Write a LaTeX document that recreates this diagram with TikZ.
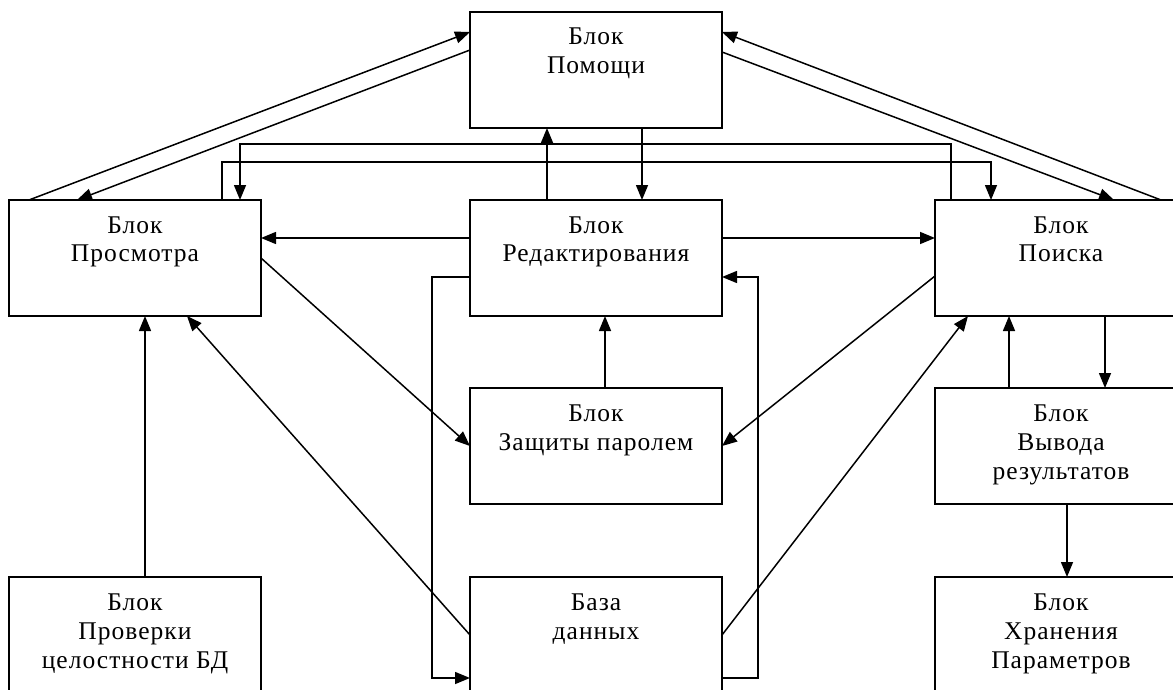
\documentclass[tikz,border=0pt]{standalone}
\usepackage{fontspec}
\setmainfont{Liberation Serif}[LetterSpace=4.0]
\usepackage{tikz}
\usetikzlibrary{arrows.meta, positioning}
\tikzstyle{block}=[rectangle, draw=black, line width=1.5pt, outer sep=0pt, inner sep=0pt, minimum width=252pt, minimum height=116pt, align=center, font=\fontsize{25.5}{29}\selectfont]
\tikzstyle{post}=[-{Triangle[length=15pt,width=12pt]}, line width=1.5pt]

\begin{document}
\begin{tikzpicture}[x=1pt, y=1pt]
  \useasboundingbox (0,0) rectangle (1173,-690);
  \clip (0,0) rectangle (1173,-690);

  % blocks
  \node[block] (prosm) at (135,-258) {Блок\\Просмотра\\\strut};
	\node[block] (redakt) [right=209pt of prosm] {Блок\\Редактирования\\\strut};
	\node[block] (poisk) [right=213pt of redakt] {Блок\\Поиска\\\strut};
	\node[block] (pomosh) [above=72pt of redakt] {Блок\\Помощи\\\strut};
	\node[block] (zashch) [below=72pt of redakt] {Блок\\Защиты паролем\\\strut};
	\node[block] (baza) [below=73pt of zashch] {База\\данных\\\strut};
	\node[block] (vyvod) [below=72pt of poisk] {Блок\\Вывода\\результатов\strut};
	\node[block] (hran) [below=73pt of vyvod] {Блок\\Хранения\\Параметров\strut};
	\node[block] (prov) [below=261pt of prosm] {Блок\\Проверки\\целостности БД\strut};

  % help links
  \draw[post] ([xshift=20pt]prosm.north west) -- ([yshift=-20pt]pomosh.north west);
  \draw[post] ([yshift=-38pt]pomosh.north west) -- ([xshift=68pt]prosm.north west);
  \draw[post] ([xshift=226pt]poisk.north west) -- ([yshift=-20pt]pomosh.north east);
  \draw[post] ([yshift=-40pt]pomosh.north east) -- ([xshift=179pt]poisk.north west);
  \draw[post] ([xshift=172pt]pomosh.south west) -- ([xshift=172pt]redakt.north west);
  \draw[post] ([xshift=77pt]redakt.north west) -- ([xshift=77pt]pomosh.south west);

  % over the top
  \draw[post] ([xshift=213pt]prosm.north west) -- ++(0,38) -| ([xshift=56pt]poisk.north west);
  \draw[post] ([xshift=16pt]poisk.north west) -- ++(0,56) -| ([xshift=231pt]prosm.north west);

  \draw[post] ([yshift=20pt]redakt.west) -- ([yshift=20pt]prosm.east);
  \draw[post] ([yshift=20pt]redakt.east) -- ([yshift=20pt]poisk.west);
  \draw[post] ([yshift=-19pt]redakt.west) -- ++(-38,0) |- ([yshift=-43pt]baza.west);
  \draw[post] ([yshift=-43pt]baza.east) -- ++(36,0) |- ([yshift=-19pt]redakt.east);

  \draw[post] (prosm.east) -- (zashch.west);
  \draw[post] ([yshift=-18pt]poisk.west) -- (zashch.east);
  \draw[post] ([xshift=9pt]zashch.north) -- ([xshift=9pt]redakt.south);
  \draw[post] (baza.west) -- ([xshift=178pt]prosm.south west);
  \draw[post] ([xshift=10pt]prov.north) -- ([xshift=10pt]prosm.south);
  \draw[post] (baza.east) -- ([xshift=33pt]poisk.south west);

  % search and results
  \draw[post] ([xshift=74pt]vyvod.north west) -- ([xshift=74pt]poisk.south west);
  \draw[post] ([xshift=170pt]poisk.south west) -- ([xshift=170pt]vyvod.north west);
  \draw[post] ([xshift=132pt]vyvod.south west) -- ([xshift=132pt]hran.north west);
\end{tikzpicture}
\end{document}
